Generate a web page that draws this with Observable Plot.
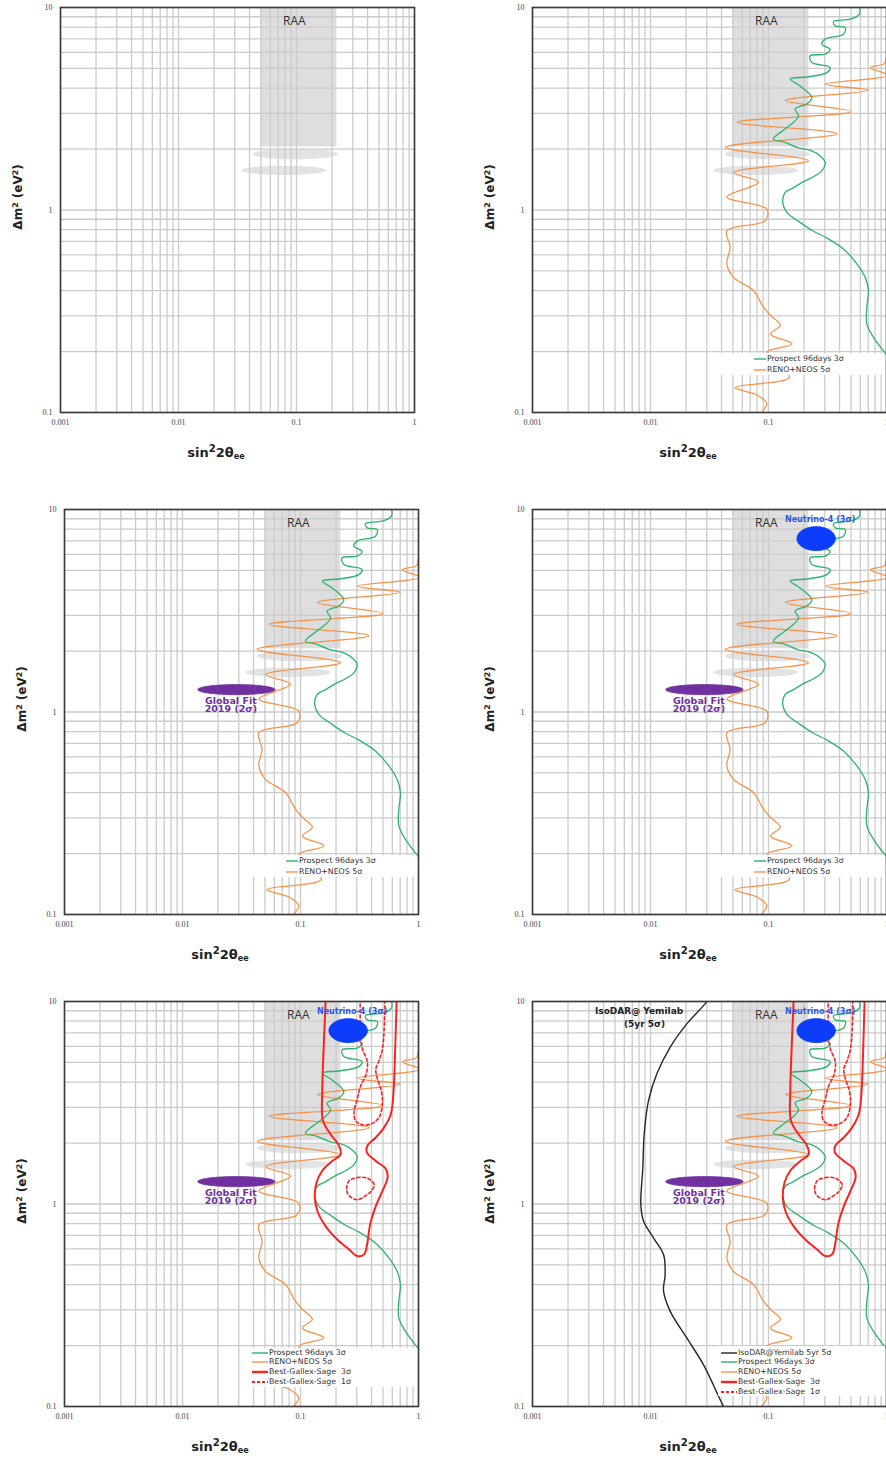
<!DOCTYPE html>
<html><head><meta charset="utf-8">
<script src="https://cdn.jsdelivr.net/npm/d3@7"></script>
<script src="https://cdn.jsdelivr.net/npm/@observablehq/plot@0.6"></script>
<style>
body{margin:0;background:#fff;}
#root{position:relative;width:886px;height:1458px;overflow:hidden;background:#fff;font-family:"DejaVu Sans",sans-serif;}
.panel{position:absolute;width:444px;height:452px;}
.panel svg{max-width:none !important;display:block;}
.xt{position:absolute;font-weight:bold;font-size:13px;color:#222;transform:translate(-50%,-50%);white-space:nowrap;line-height:1;}
.xt sup{font-size:78%;vertical-align:0.45em;line-height:0;}
.xt sub{font-size:62%;vertical-align:-0.3em;line-height:0;}
.yt{position:absolute;font-weight:bold;font-size:12px;color:#222;transform:translate(-50%,-50%) rotate(-90deg);white-space:nowrap;line-height:1;}
.yt sup{font-size:65%;vertical-align:0.5em;line-height:0;}
.leg{position:absolute;background:#fff;}
.lt{position:absolute;font-size:7.8px;color:#333;white-space:pre;line-height:1;transform:translateY(-50%);}
.sw{position:absolute;overflow:visible;}
</style></head>
<body><div id="root"></div>
<script>
// ---------- axis ticks ----------
const xTickValues = [0.001, 0.01, 0.1, 1];
const xTickLabels = ["0.001", "0.01", "0.1", "1"];
const yTickValues = [0.1, 1, 10];
const yTickLabels = ["0.1", "1", "10"];
const gridSteps = [1, 2, 3, 4, 5, 6, 7, 8, 9];
const xGridDecades = [0.001, 0.01, 0.1, 1];
const yGridDecades = [0.1, 1, 10];

// ---------- RAA region ----------
const raaBand = [{x1: 0.05, x2: 0.22, y1: 2.05, y2: 10}];
const raaBlobs = [
  {cx: 0.098, cy: 1.89, rx: 0.36, ry: 0.026},
  {cx: 0.078, cy: 1.57, rx: 0.36, ry: 0.023}
];
const raaLabel = [{x: 0.096, y: 8.56, text: "RAA"}];

// ---------- Prospect 96days 3σ (sin²2θ, Δm²) ----------
const prospect = [[0.58,10.5],[0.59,9.27],[0.49,8.75],[0.356,8.53],[0.367,8.12],[0.447,7.97],[0.432,7.38],[0.302,6.98],[0.283,6.59],[0.333,6.22],[0.302,5.89],[0.225,5.77],[0.233,5.35],[0.333,5.06],[0.312,4.77],[0.218,4.55],[0.153,4.43],[0.185,4.10],[0.233,3.59],[0.211,3.34],[0.168,3.15],[0.180,2.92],[0.163,2.71],[0.138,2.51],[0.110,2.24],[0.138,2.16],[0.174,2.04],[0.233,1.96],[0.274,1.85],[0.302,1.72],[0.283,1.56],[0.241,1.46],[0.198,1.38],[0.163,1.29],[0.138,1.22],[0.132,1.09],[0.143,0.974],[0.185,0.869],[0.241,0.785],[0.312,0.728],[0.432,0.642],[0.561,0.542],[0.659,0.465],[0.703,0.400],[0.681,0.331],[0.681,0.274],[0.776,0.235],[1.0,0.193],[1.2,0.17]];

// ---------- RENO+NEOS 5σ ----------
const reno = [[1.25,6.1],[1.0,5.7],[0.97,5.3],[0.73,5.04],[1.03,4.62],[0.303,4.18],[0.70,3.90],[0.139,3.47],[0.50,3.06],[0.054,2.71],[0.38,2.38],[0.043,2.04],[0.218,1.75],[0.0505,1.53],[0.0823,1.37],[0.0444,1.16],[0.0968,1.01],[0.0937,0.885],[0.0444,0.79],[0.0473,0.655],[0.0444,0.542],[0.0505,0.465],[0.0746,0.40],[0.0907,0.331],[0.105,0.30],[0.126,0.27],[0.104,0.244],[0.158,0.218],[0.097,0.199],[0.125,0.175],[0.150,0.149],[0.052,0.133],[0.080,0.122],[0.097,0.110],[0.088,0.100],[0.09,0.095]];

// ---------- Best-Gallex-Sage ----------
const bgs3 = [[0.163,11],[0.163,10],[0.158,6.41],[0.153,3.62],[0.155,2.58],[0.180,2.21],[0.212,1.94],[0.219,1.76],[0.186,1.63],[0.153,1.46],[0.137,1.28],[0.132,1.10],[0.139,0.923],[0.163,0.778],[0.205,0.668],[0.258,0.597],[0.303,0.553],[0.346,0.564],[0.369,0.644],[0.389,0.793],[0.435,0.977],[0.495,1.16],[0.547,1.35],[0.529,1.49],[0.435,1.63],[0.365,1.80],[0.369,1.94],[0.435,2.13],[0.512,2.39],[0.583,2.78],[0.615,3.62],[0.631,5.30],[0.644,7.75],[0.652,10],[0.652,11]];
const bgs1Upper = [[0.320,11],[0.320,10],[0.324,6.53],[0.335,5.83],[0.369,5.01],[0.357,4.31],[0.324,3.84],[0.303,3.30],[0.284,2.83],[0.294,2.57],[0.335,2.46],[0.394,2.48],[0.464,2.68],[0.495,3.17],[0.480,3.70],[0.449,4.14],[0.435,4.64],[0.464,5.11],[0.495,5.83],[0.512,7.33],[0.519,10],[0.519,11]];
const bgs1Lower = [[0.258,1.30],[0.303,1.35],[0.369,1.34],[0.421,1.25],[0.399,1.16],[0.357,1.10],[0.303,1.05],[0.258,1.10],[0.246,1.18]];

// ---------- IsoDAR@Yemilab 5yr 5σ ----------
const isodar = [[0.031,10.5],[0.030,10],[0.0203,7.75],[0.0147,5.95],[0.0113,4.38],[0.00962,3.24],[0.00884,2.21],[0.00861,1.51],[0.00828,0.996],[0.00872,0.824],[0.0106,0.681],[0.0129,0.563],[0.0133,0.449],[0.0129,0.371],[0.0147,0.295],[0.0203,0.218],[0.0281,0.161],[0.0416,0.1],[0.044,0.095]];

// ---------- allowed regions (centre, half-extent in decades) ----------
const globalFit = {cx: 0.0286, cy: 1.29, rx: 0.327, ry: 0.025};
const neutrino4 = {cx: 0.2535, cy: 7.18, rx: 0.163, ry: 0.0594};
const globalFitLabel = [{x: 0.0257, y: 1.14, text: "Global Fit"}, {x: 0.0257, y: 1.03, text: "2019 (2σ)"}];
const neutrino4Label = [{x: 0.274, y: 8.92, text: "Neutrino-4 (3σ)"}];
const isodarLabel = [{x: 0.0080, y: 8.92, text: "IsoDAR@ Yemilab"}, {x: 0.0089, y: 7.70, text: "(5yr 5σ)"}];

// ---------- legend texts ----------
const legendNames = {
  isodar: "IsoDAR@Yemilab 5yr 5σ",
  prospect: "Prospect 96days 3σ",
  reno: "RENO+NEOS 5σ",
  bgs3: "Best-Gallex-Sage  3σ",
  bgs1: "Best-Gallex-Sage  1σ"
};

// ---------- styles ----------
const STYLE = {grid: "#cbcbcb", raa: "#dedede", raaBlob: "#e3e3e3", prospect: "#2db46c", reno: "#f6934a",
  bgs: "#ff2020", isodar: "#262626", global: "#7030a0", n4: "#0b3dfb", n4text: "#2a56e8", frame: "#3a3a3a"};
const swatch = {
  isodar: {stroke: STYLE.isodar, w: 1.4, dash: null},
  prospect: {stroke: STYLE.prospect, w: 1.4, dash: null},
  reno: {stroke: STYLE.reno, w: 1.4, dash: null},
  bgs3: {stroke: STYLE.bgs, w: 2.4, dash: null},
  bgs1: {stroke: STYLE.bgs, w: 1.8, dash: "3,2"}
};

const xGrid = xGridDecades.flatMap(d => gridSteps.map(s => +(d * s).toPrecision(3))).filter(v => v <= 1);
const yGrid = yGridDecades.flatMap(d => gridSteps.map(s => +(d * s).toPrecision(3))).filter(v => v <= 10);

function ellipsePts(e, n = 96) {
  const pts = [];
  for (let i = 0; i <= n; i++) {
    const t = 2 * Math.PI * i / n;
    pts.push([10 ** (Math.log10(e.cx) + e.rx * Math.cos(t)), 10 ** (Math.log10(e.cy) + e.ry * Math.sin(t))]);
  }
  return pts;
}

const FW = 354, FH = 405;
const M = {left: 60, right: 30, top: 7, bottom: 40};

const legendLayouts = {
  A: {x: 188, y: 346, h: 22, rows: [352, 363], sw: [222, 234], tx: 235, keys: ["prospect", "reno"]},
  B: {x: 186, y: 347, h: 39, rows: [352, 361, 371, 381], sw: [188, 204], tx: 205, keys: ["prospect", "reno", "bgs3", "bgs1"]},
  C: {x: 186, y: 345, h: 50, rows: [352, 361, 371, 381, 391], sw: [189, 205], tx: 206, keys: ["isodar", "prospect", "reno", "bgs3", "bgs1"]}
};

const panelDefs = [
  {left: 0, top: 0, layers: [], legend: null},
  {left: 472, top: 0, layers: ["prospect", "reno"], legend: "A"},
  {left: 4, top: 502, layers: ["prospect", "reno", "global"], legend: "A"},
  {left: 472, top: 502, layers: ["prospect", "reno", "global", "n4"], legend: "A"},
  {left: 4, top: 994, layers: ["prospect", "reno", "global", "n4", "bgs"], legend: "B"},
  {left: 472, top: 994, layers: ["prospect", "reno", "global", "n4", "bgs", "isodar"], legend: "C"}
];

const X = d => d[0], Y = d => d[1];

function buildMarks(layers) {
  const has = k => layers.includes(k);
  const m = [];
  m.push(Plot.rect(raaBand, {x1: "x1", x2: "x2", y1: "y1", y2: "y2", fill: STYLE.raa}));
  for (const b of raaBlobs) m.push(Plot.line(ellipsePts(b), {x: X, y: Y, fill: STYLE.raaBlob, stroke: "none", clip: true}));
  m.push(Plot.ruleX(xGrid, {stroke: STYLE.grid, strokeWidth: 1.3}));
  m.push(Plot.ruleY(yGrid, {stroke: STYLE.grid, strokeWidth: 1.3}));
  m.push(Plot.text(raaLabel, {x: "x", y: "y", text: "text", fontSize: 12, fontFamily: "Open Sans", fill: "#333"}));
  if (has("isodar")) m.push(Plot.line(isodar, {x: X, y: Y, stroke: STYLE.isodar, strokeWidth: 1.4, curve: "catmull-rom", clip: true}));
  if (has("reno")) m.push(Plot.line(reno, {x: X, y: Y, stroke: STYLE.reno, strokeWidth: 1.3, curve: "catmull-rom", clip: true}));
  if (has("prospect")) m.push(Plot.line(prospect, {x: X, y: Y, stroke: STYLE.prospect, strokeWidth: 1.3, curve: "catmull-rom", clip: true}));
  if (has("bgs")) {
    m.push(Plot.line(bgs3, {x: X, y: Y, stroke: STYLE.bgs, strokeWidth: 2, curve: "catmull-rom", clip: true}));
    m.push(Plot.line(bgs1Upper, {x: X, y: Y, stroke: STYLE.bgs, strokeWidth: 1.6, strokeDasharray: "3,2.5", curve: "catmull-rom", clip: true}));
    m.push(Plot.line(bgs1Lower, {x: X, y: Y, stroke: STYLE.bgs, strokeWidth: 1.6, strokeDasharray: "3,2.5", curve: "catmull-rom-closed", clip: true}));
  }
  if (has("global")) {
    m.push(Plot.line(ellipsePts(globalFit), {x: X, y: Y, fill: STYLE.global, stroke: STYLE.global, strokeWidth: 0.8}));
    m.push(Plot.text(globalFitLabel, {x: "x", y: "y", text: "text", fontSize: 9.5, fontWeight: "bold", fontFamily: "DejaVu Sans", fill: STYLE.global}));
  }
  if (has("n4")) {
    m.push(Plot.line(ellipsePts(neutrino4), {x: X, y: Y, fill: STYLE.n4, stroke: STYLE.n4, strokeWidth: 0.8}));
    m.push(Plot.text(neutrino4Label, {x: "x", y: "y", text: "text", fontSize: 8, fontWeight: "bold", fontFamily: "DejaVu Sans", fill: STYLE.n4text}));
  }
  if (has("isodar")) {
    m.push(Plot.text(isodarLabel, {x: "x", y: "y", text: "text", fontSize: 9, fontWeight: "bold", fontFamily: "DejaVu Sans", fill: "#222"}));
  }
  m.push(Plot.frame({stroke: STYLE.frame, strokeWidth: 1.6}));
  return m;
}

const root = document.getElementById("root");

for (const p of panelDefs) {
  const W = M.left + FW + M.right, H = M.top + FH + M.bottom;
  const chart = Plot.plot({
    width: W,
    height: H,
    marginLeft: M.left, marginRight: M.right, marginTop: M.top, marginBottom: M.bottom,
    x: {type: "log", domain: [0.001, 1], ticks: xTickValues, tickFormat: d => xTickLabels[xTickValues.indexOf(d)] ?? "", tickSize: 0, tickPadding: 7, label: null},
    y: {type: "log", domain: [0.1, 10], ticks: yTickValues, tickFormat: d => yTickLabels[yTickValues.indexOf(d)] ?? "", tickSize: 0, tickPadding: 8, label: null},
    style: {fontFamily: "Liberation Serif", fontSize: "8px", color: "#444", background: "transparent", maxWidth: "none"},
    marks: buildMarks(p.layers)
  });
  chart.style.maxWidth = "none";
  chart.style.width = W + "px";
  chart.style.height = H + "px";
  const wrap = document.createElement("div");
  wrap.className = "panel";
  wrap.style.left = p.left + "px";
  wrap.style.top = p.top + "px";
  wrap.style.width = W + "px";
  wrap.style.height = H + "px";
  wrap.appendChild(chart);
  root.appendChild(wrap);

  const fl = p.left + M.left, ft = p.top + M.top;

  const xt = document.createElement("div");
  xt.className = "xt";
  xt.innerHTML = "sin<sup>2</sup>2θ<sub>ee</sub>";
  xt.style.left = (fl + 156) + "px";
  xt.style.top = (ft + FH + 40) + "px";
  root.appendChild(xt);

  const yt = document.createElement("div");
  yt.className = "yt";
  yt.innerHTML = "Δm<sup>2</sup> (eV<sup>2</sup>)";
  yt.style.left = (fl - 42) + "px";
  yt.style.top = (ft + 190) + "px";
  root.appendChild(yt);

  if (p.legend) {
    const L = legendLayouts[p.legend];
    const box = document.createElement("div");
    box.className = "leg";
    box.style.left = (fl + L.x) + "px";
    box.style.top = (ft + L.y) + "px";
    box.style.width = (FW - L.x - 1) + "px";
    box.style.height = L.h + "px";
    root.appendChild(box);
    L.keys.forEach((k, i) => {
      const ry = ft + L.rows[i];
      const s = swatch[k];
      const svgNS = "http://www.w3.org/2000/svg";
      const sv = document.createElementNS(svgNS, "svg");
      sv.setAttribute("class", "sw");
      const w = L.sw[1] - L.sw[0];
      sv.setAttribute("width", w);
      sv.setAttribute("height", 6);
      sv.style.left = (fl + L.sw[0]) + "px";
      sv.style.top = (ry - 3) + "px";
      const ln = document.createElementNS(svgNS, "line");
      ln.setAttribute("x1", 0); ln.setAttribute("x2", w);
      ln.setAttribute("y1", 3); ln.setAttribute("y2", 3);
      ln.setAttribute("stroke", s.stroke);
      ln.setAttribute("stroke-width", s.w);
      if (s.dash) ln.setAttribute("stroke-dasharray", s.dash);
      sv.appendChild(ln);
      root.appendChild(sv);
      const t = document.createElement("div");
      t.className = "lt";
      t.textContent = legendNames[k];
      t.style.left = (fl + L.tx) + "px";
      t.style.top = ry + "px";
      root.appendChild(t);
    });
  }
}
</script>
</body></html>
